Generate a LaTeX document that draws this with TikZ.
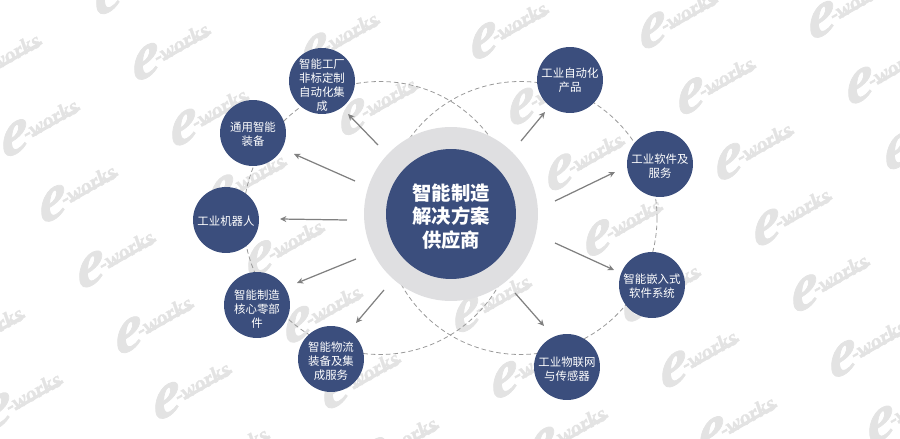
\documentclass[tikz,border=0pt]{standalone}
\usepackage{fontspec}
\setmainfont{Liberation Serif}
\newfontfamily\cjkfont{Noto Sans CJK SC}
\newfontfamily\markfont[BoldItalicFeatures={FakeBold=1.2}]{Liberation Serif}
\usepackage{tikz}
\usetikzlibrary{arrows.meta}
\definecolor{hubblue}{HTML}{3B4E7D}
\definecolor{ringgray}{HTML}{DFDFE1}
\definecolor{markgray}{HTML}{E3E3E3}
\tikzset{
  topic/.style={shape=circle,draw=none,fill=hubblue,inner sep=0pt,minimum size=1.32cm},
  topictext/.style={text=white,inner sep=0pt,align=center,font=\cjkfont\fontsize{6.5}{8}\selectfont},
  orbit/.style={draw=black!40,line width=0.45pt,dash pattern=on 2.6pt off 1.7pt},
  flow/.style={draw=black!50,line width=0.7pt,-{Stealth[length=3.6pt,width=3.4pt]}},
  markword/.style={text=markgray,inner sep=0pt,font=\markfont\bfseries\itshape\fontsize{12.5}{12.5}\selectfont},
  markbar/.style={draw=markgray,line width=1.8pt}
}
\newcommand{\topicnode}[5]{\node[topic] (#1) at (#2,#3) {}; \node[topictext] (#1text) at (#2,#3+#4) {#5};}
\newcommand{\flowarrow}[5]{\coordinate (#1a) at (#2,#3); \coordinate (#1b) at (#4,#5); \draw[flow] (#1a) -- (#1b);}
\begin{document}
\begin{tikzpicture}[x=0.02cm,y=-0.02cm]
        \useasboundingbox (0,0) rectangle (900,439);
        % watermark
        \begin{scope}
        \clip (0,0) rectangle (900,439);
        \foreach \i in {-2,...,6}
          \foreach \j in {-3,...,6} {
            \pgfmathsetmacro{\markx}{3+169*\i+38*\j}
            \pgfmathsetmacro{\marky}{152-10.5*\i+65.7*\j}
            \pgfmathtruncatemacro{\markon}{and(and(\markx>-75,\markx<895),and(\marky>3,\marky<485))}
            \ifnum\markon=1
            \begin{scope}[shift={(\markx,\marky)}]
              \node[markword,rotate=26,xslant=0.35,xscale=3,yscale=2.8] (marke) at (12,-14) {e};
              \node[markword,rotate=29] (markw) at (47,-33) {-works};
              \draw[markbar] (29,-16) -- (77,-44);
            \end{scope}
            \fi
          }
        \end{scope}
        % dashed rings
        \draw[orbit] (380,218) circle (136.5);
        \draw[orbit] (520.5,218) circle (136.5);
        % hub
        \node[shape=circle,draw=none,fill=ringgray,inner sep=0pt,minimum size=3.48cm] (ring) at (451,214) {};
        \node[shape=circle,draw=none,fill=hubblue,inner sep=0pt,minimum size=2.6cm] (hub) at (451,214) {};
        \node[text=white,inner sep=0pt,align=center,font=\cjkfont\bfseries\fontsize{11}{13.4}\selectfont] (hubtext) at (451,216.5) {智能制造\\解决方案\\供应商};
        % left side
        \topicnode{factory}{322}{81}{4}{智能工厂\\非标定制\\自动化集\\成}
        \topicnode{equip}{253}{133}{1}{通用智能\\装备}
        \topicnode{robot}{226}{220}{1}{工业机器人}
        \topicnode{parts}{257}{305}{4}{智能制造\\核心零部\\件}
        \topicnode{logistics}{331}{359}{2}{智能物流\\装备及集\\成服务}
        % right side
        \topicnode{product}{570}{80}{0}{工业自动化\\产品}
        \topicnode{software}{660}{164}{2}{工业软件及\\服务}
        \topicnode{embedded}{652}{285}{1}{智能嵌入式\\软件系统}
        \topicnode{iot}{567}{367}{2}{工业物联网\\与传感器}
        % arrows
        \flowarrow{f1}{378}{145}{348}{114}
        \flowarrow{f2}{355}{181}{294}{154}
        \flowarrow{f3}{347}{220}{280}{219}
        \flowarrow{f4}{356}{259}{297}{283}
        \flowarrow{f5}{384}{290}{356}{323}
        \flowarrow{f6}{521}{141}{545}{112}
        \flowarrow{f7}{555}{201}{615}{172}
        \flowarrow{f8}{555}{243}{614}{270}
        \flowarrow{f9}{515}{293}{544}{326}
    \end{tikzpicture}
\end{document}
